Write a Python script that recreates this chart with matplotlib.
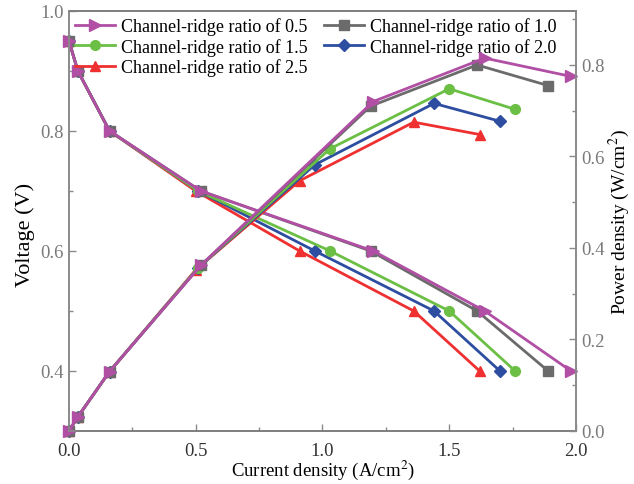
import matplotlib
matplotlib.use("Agg")
import matplotlib.pyplot as plt
from matplotlib.ticker import MultipleLocator

plt.rcParams["font.family"] = ["Liberation Serif", "DejaVu Serif"]
plt.rcParams["mathtext.fontset"] = "stix"

# --- data ---
voltage = [0.95, 0.9, 0.8, 0.7, 0.6, 0.5, 0.4]

labels = ["0.5", "1.0", "1.5", "2.0", "2.5"]
current = {
    "0.5": [0.0, 0.035, 0.16, 0.52, 1.20, 1.64, 1.98],
    "1.0": [0.0, 0.035, 0.16, 0.52, 1.19, 1.61, 1.89],
    "1.5": [0.0, 0.035, 0.16, 0.51, 1.03, 1.50, 1.76],
    "2.0": [0.0, 0.035, 0.16, 0.51, 0.97, 1.44, 1.70],
    "2.5": [0.0, 0.035, 0.16, 0.50, 0.91, 1.36, 1.62],
}
power = {
    "0.5": [0.0, 0.031, 0.13, 0.362, 0.72, 0.815, 0.775],
    "1.0": [0.0, 0.031, 0.13, 0.362, 0.71, 0.80, 0.755],
    "1.5": [0.0, 0.031, 0.13, 0.357, 0.617, 0.748, 0.703],
    "2.0": [0.0, 0.031, 0.13, 0.357, 0.582, 0.716, 0.677],
    "2.5": [0.0, 0.031, 0.13, 0.352, 0.547, 0.675, 0.648],
}
colors = {"0.5": "#B04FA4", "1.0": "#6B6B6B", "1.5": "#6CBF45",
          "2.0": "#2D4DA0", "2.5": "#EF3030"}
markers = {"0.5": ">", "1.0": "s", "1.5": "o", "2.0": "D", "2.5": "^"}
msize = {"0.5": 8, "1.0": 6.5, "1.5": 7, "2.0": 6, "2.5": 7.5}

fig = plt.figure(figsize=(6.34, 4.85), dpi=100)
ax = fig.add_axes([0.1088, 0.1093, 0.7997, 0.866])
ax2 = ax.twinx()

handles = {}
# red first, magenta last: magenta ends up on top like in the picture
for key in ["2.5", "2.0", "1.5", "1.0", "0.5"]:
    kw = dict(color=colors[key], marker=markers[key], markersize=msize[key],
              linewidth=2, clip_on=False)
    h, = ax.plot(current[key], voltage, **kw,
                 label=f"Channel-ridge ratio of {key}")
    ax2.plot(current[key], power[key], **kw)
    handles[key] = h

ax.set_xlim(0, 2.0)
ax.set_ylim(0.3, 1.0)
ax2.set_ylim(0, 0.918)

ax.xaxis.set_major_locator(MultipleLocator(0.5))
ax.xaxis.set_minor_locator(MultipleLocator(0.25))
ax.yaxis.set_major_locator(MultipleLocator(0.2))
ax.yaxis.set_minor_locator(MultipleLocator(0.1))
ax2.yaxis.set_major_locator(MultipleLocator(0.2))
ax2.yaxis.set_minor_locator(MultipleLocator(0.1))
ax.set_yticks([0.4, 0.6, 0.8, 1.0])

tick_grey = "#7a7a7a"
for a in (ax, ax2):
    a.tick_params(which="both", direction="in", colors="#8a8a8a",
                  labelcolor=tick_grey, labelsize=13.5)
    a.tick_params(which="major", length=5, width=1)
    a.tick_params(which="minor", length=3, width=1)
    for s in a.spines.values():
        s.set_color("#8a8a8a")
        s.set_linewidth(1.2)
ax.spines["top"].set_color("#333333")
ax.spines["bottom"].set_color("#333333")
ax.tick_params(axis="x", labelcolor="#333333", pad=8)
ax.xaxis.set_major_formatter(lambda v, p: f"{v:.1f}")
ax.yaxis.set_major_formatter(lambda v, p: f"{v:.1f}")
ax2.yaxis.set_major_formatter(lambda v, p: f"{v:.1f}")

ax.set_xlabel("Current density (A/cm$^2$)", fontsize=13.5)
ax.xaxis.set_label_coords(0.5, -0.063)
ax.set_ylabel("Voltage (V)", fontsize=16)
ax.yaxis.set_label_coords(-0.067, 0.47)
ax2.set_ylabel("Power density (W/cm$^2$)", fontsize=14)
ax2.yaxis.set_label_coords(1.06, 0.5)

order = ["0.5", "1.5", "2.5", "1.0", "2.0"]
ax.legend([handles[k] for k in order],
          [handles[k].get_label() for k in order],
          loc="upper left", ncol=2, frameon=False, fontsize=13,
          handlelength=2.2, columnspacing=0.9, labelspacing=0.15,
          handletextpad=0.35, borderaxespad=0.0, borderpad=0.35,
          bbox_to_anchor=(0.0, 1.0))

fig.savefig("out.png", dpi=100)
